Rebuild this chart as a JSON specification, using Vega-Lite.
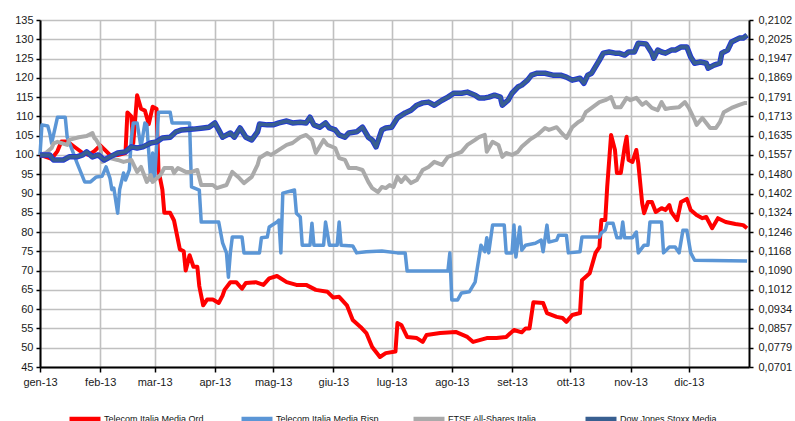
{
"$schema": "https://vega.github.io/schema/vega-lite/v6.json",
"width": 709, "height": 347,
"autosize": {"type": "none"},
"padding": {"left": 40, "top": 20, "right": 46, "bottom": 54},
"background": "white",
"config": {"view": {"stroke": null}, "font": "Liberation Sans"},
"datasets": {
"ord": [
{"d":"2013-01-01","v":100},{"d":"2013-01-04","v":99.5},{"d":"2013-01-07","v":99},{"d":"2013-01-10","v":101},{"d":"2013-01-12","v":103.5},{"d":"2013-01-15","v":103.5},{"d":"2013-01-19","v":102},{"d":"2013-01-23","v":100.5},{"d":"2013-01-26","v":100},{"d":"2013-01-29","v":101},{"d":"2013-02-01","v":102.5},{"d":"2013-02-03","v":101.5},{"d":"2013-02-06","v":100},{"d":"2013-02-10","v":100},{"d":"2013-02-14","v":100.5},{"d":"2013-02-15","v":111},{"d":"2013-02-17","v":110},{"d":"2013-02-18","v":103},{"d":"2013-02-20","v":115.5},{"d":"2013-02-22","v":112},{"d":"2013-02-24","v":111.5},{"d":"2013-02-26","v":108},{"d":"2013-02-28","v":112.5},{"d":"2013-03-02","v":112},{"d":"2013-03-03","v":96},{"d":"2013-03-05","v":91},{"d":"2013-03-06","v":85},{"d":"2013-03-09","v":85},{"d":"2013-03-11","v":83},{"d":"2013-03-14","v":75.5},{"d":"2013-03-16","v":75},{"d":"2013-03-17","v":70},{"d":"2013-03-19","v":74},{"d":"2013-03-21","v":71},{"d":"2013-03-23","v":71},{"d":"2013-03-24","v":66},{"d":"2013-03-26","v":61},{"d":"2013-03-28","v":62.5},{"d":"2013-03-31","v":62.5},{"d":"2013-04-03","v":61.6},{"d":"2013-04-05","v":63.5},{"d":"2013-04-06","v":65},{"d":"2013-04-09","v":67},{"d":"2013-04-12","v":67},{"d":"2013-04-15","v":65.3},{"d":"2013-04-17","v":66.8},{"d":"2013-04-22","v":67},{"d":"2013-04-26","v":66.3},{"d":"2013-04-29","v":68},{"d":"2013-05-03","v":68.6},{"d":"2013-05-08","v":67},{"d":"2013-05-13","v":66.3},{"d":"2013-05-18","v":66.3},{"d":"2013-05-23","v":65},{"d":"2013-05-29","v":64.5},{"d":"2013-06-01","v":63},{"d":"2013-06-04","v":63.2},{"d":"2013-06-08","v":61},{"d":"2013-06-11","v":57.2},{"d":"2013-06-15","v":55.4},{"d":"2013-06-18","v":53.8},{"d":"2013-06-21","v":50.2},{"d":"2013-06-25","v":47.6},{"d":"2013-06-28","v":48.6},{"d":"2013-07-03","v":49},{"d":"2013-07-04","v":56.4},{"d":"2013-07-06","v":55.9},{"d":"2013-07-09","v":52.8},{"d":"2013-07-14","v":52.5},{"d":"2013-07-17","v":51.5},{"d":"2013-07-19","v":53.3},{"d":"2013-07-26","v":53.8},{"d":"2013-08-03","v":54.1},{"d":"2013-08-09","v":52.8},{"d":"2013-08-12","v":51.5},{"d":"2013-08-19","v":52.5},{"d":"2013-08-24","v":52.5},{"d":"2013-08-29","v":52.8},{"d":"2013-09-02","v":54.6},{"d":"2013-09-06","v":54},{"d":"2013-09-08","v":55},{"d":"2013-09-10","v":55},{"d":"2013-09-12","v":61.8},{"d":"2013-09-17","v":61.6},{"d":"2013-09-19","v":59},{"d":"2013-09-24","v":58},{"d":"2013-09-27","v":57.7},{"d":"2013-09-29","v":56.7},{"d":"2013-10-02","v":58.5},{"d":"2013-10-06","v":59},{"d":"2013-10-07","v":67.5},{"d":"2013-10-11","v":69.3},{"d":"2013-10-14","v":74.6},{"d":"2013-10-16","v":76.1},{"d":"2013-10-17","v":83.1},{"d":"2013-10-19","v":83.1},{"d":"2013-10-20","v":91.7},{"d":"2013-10-22","v":105.2},{"d":"2013-10-24","v":101.3},{"d":"2013-10-25","v":95.3},{"d":"2013-10-27","v":95.3},{"d":"2013-10-29","v":102.1},{"d":"2013-10-30","v":104.7},{"d":"2013-10-31","v":98.7},{"d":"2013-11-02","v":98.2},{"d":"2013-11-04","v":101.3},{"d":"2013-11-05","v":97.9},{"d":"2013-11-07","v":87.5},{"d":"2013-11-08","v":84.9},{"d":"2013-11-10","v":87.8},{"d":"2013-11-12","v":87.8},{"d":"2013-11-14","v":85.2},{"d":"2013-11-17","v":86.2},{"d":"2013-11-19","v":85.7},{"d":"2013-11-21","v":87},{"d":"2013-11-22","v":85.2},{"d":"2013-11-25","v":83.1},{"d":"2013-11-27","v":87.8},{"d":"2013-11-30","v":88.6},{"d":"2013-12-02","v":85.7},{"d":"2013-12-05","v":84.4},{"d":"2013-12-08","v":83.6},{"d":"2013-12-10","v":83.9},{"d":"2013-12-13","v":81},{"d":"2013-12-16","v":83.6},{"d":"2013-12-20","v":82.6},{"d":"2013-12-25","v":82.1},{"d":"2013-12-29","v":81.8},{"d":"2013-12-31","v":81}
],
"risp": [
{"d":"2013-01-01","v":100},{"d":"2013-01-02","v":107.8},{"d":"2013-01-05","v":107.5},{"d":"2013-01-06","v":105.7},{"d":"2013-01-07","v":103},{"d":"2013-01-10","v":109.8},{"d":"2013-01-14","v":109.8},{"d":"2013-01-15","v":104.6},{"d":"2013-01-17","v":102},{"d":"2013-01-20","v":98},{"d":"2013-01-24","v":93},{"d":"2013-01-27","v":93},{"d":"2013-01-30","v":94.3},{"d":"2013-02-02","v":94.5},{"d":"2013-02-04","v":96.9},{"d":"2013-02-06","v":94},{"d":"2013-02-07","v":91},{"d":"2013-02-08","v":91.4},{"d":"2013-02-10","v":84.9},{"d":"2013-02-11","v":91},{"d":"2013-02-13","v":95.3},{"d":"2013-02-14","v":93.5},{"d":"2013-02-16","v":96.1},{"d":"2013-02-17","v":103.9},{"d":"2013-02-18","v":108.3},{"d":"2013-02-20","v":108.3},{"d":"2013-02-22","v":102},{"d":"2013-02-24","v":108.3},{"d":"2013-02-25","v":107.8},{"d":"2013-02-27","v":93.5},{"d":"2013-02-28","v":100.5},{"d":"2013-03-01","v":93.5},{"d":"2013-03-02","v":102},{"d":"2013-03-03","v":111.1},{"d":"2013-03-09","v":111.1},{"d":"2013-03-10","v":108.3},{"d":"2013-03-19","v":108.3},{"d":"2013-03-20","v":91.7},{"d":"2013-03-24","v":90.9},{"d":"2013-03-25","v":82.6},{"d":"2013-04-03","v":82.6},{"d":"2013-04-05","v":77.2},{"d":"2013-04-07","v":74.6},{"d":"2013-04-08","v":68.3},{"d":"2013-04-09","v":74.6},{"d":"2013-04-10","v":78.7},{"d":"2013-04-15","v":78.7},{"d":"2013-04-16","v":74.6},{"d":"2013-04-24","v":74.6},{"d":"2013-04-25","v":78.5},{"d":"2013-04-28","v":78.7},{"d":"2013-04-29","v":81.3},{"d":"2013-05-03","v":82.6},{"d":"2013-05-04","v":83.1},{"d":"2013-05-05","v":74.6},{"d":"2013-05-06","v":90.1},{"d":"2013-05-12","v":90.9},{"d":"2013-05-13","v":84.9},{"d":"2013-05-15","v":83.9},{"d":"2013-05-16","v":76.6},{"d":"2013-05-20","v":76.6},{"d":"2013-05-21","v":82.3},{"d":"2013-05-22","v":76.6},{"d":"2013-05-27","v":76.6},{"d":"2013-05-28","v":82.6},{"d":"2013-05-30","v":76.6},{"d":"2013-06-03","v":76.6},{"d":"2013-06-04","v":82.6},{"d":"2013-06-05","v":76.6},{"d":"2013-06-11","v":76.4},{"d":"2013-06-13","v":74.6},{"d":"2013-06-18","v":74.9},{"d":"2013-06-26","v":75.1},{"d":"2013-07-04","v":74.6},{"d":"2013-07-08","v":74.6},{"d":"2013-07-09","v":69.9},{"d":"2013-07-30","v":69.9},{"d":"2013-07-31","v":74.6},{"d":"2013-08-01","v":62.4},{"d":"2013-08-04","v":62.4},{"d":"2013-08-06","v":64.2},{"d":"2013-08-10","v":64.5},{"d":"2013-08-13","v":67},{"d":"2013-08-14","v":70.2},{"d":"2013-08-16","v":76.6},{"d":"2013-08-18","v":74.9},{"d":"2013-08-19","v":78.5},{"d":"2013-08-20","v":74.6},{"d":"2013-08-22","v":81.8},{"d":"2013-08-28","v":81.8},{"d":"2013-08-29","v":74.6},{"d":"2013-09-01","v":74.6},{"d":"2013-09-02","v":81.8},{"d":"2013-09-03","v":73.5},{"d":"2013-09-05","v":81.3},{"d":"2013-09-06","v":75.3},{"d":"2013-09-08","v":76.6},{"d":"2013-09-13","v":77.1},{"d":"2013-09-16","v":77.9},{"d":"2013-09-17","v":74.9},{"d":"2013-09-19","v":81.8},{"d":"2013-09-20","v":77.4},{"d":"2013-09-24","v":77.9},{"d":"2013-09-25","v":79.2},{"d":"2013-09-29","v":79.2},{"d":"2013-09-30","v":74.6},{"d":"2013-10-06","v":74.9},{"d":"2013-10-07","v":78.7},{"d":"2013-10-16","v":78.7},{"d":"2013-10-17","v":79.8},{"d":"2013-10-19","v":80.5},{"d":"2013-10-20","v":82.3},{"d":"2013-10-23","v":82.3},{"d":"2013-10-25","v":78.5},{"d":"2013-10-27","v":78.5},{"d":"2013-10-28","v":82.6},{"d":"2013-10-29","v":78.5},{"d":"2013-11-02","v":78.5},{"d":"2013-11-04","v":80},{"d":"2013-11-05","v":74.6},{"d":"2013-11-08","v":76.6},{"d":"2013-11-10","v":76.6},{"d":"2013-11-11","v":82.6},{"d":"2013-11-17","v":82.6},{"d":"2013-11-18","v":74.6},{"d":"2013-11-21","v":76.1},{"d":"2013-11-24","v":76.1},{"d":"2013-11-26","v":74.6},{"d":"2013-11-28","v":80.5},{"d":"2013-11-30","v":80.5},{"d":"2013-12-02","v":74.6},{"d":"2013-12-04","v":72.7},{"d":"2013-12-31","v":72.5}
],
"ftse": [
{"d":"2013-01-01","v":100},{"d":"2013-01-04","v":100.5},{"d":"2013-01-07","v":101.8},{"d":"2013-01-08","v":103},{"d":"2013-01-10","v":103.4},{"d":"2013-01-15","v":102.6},{"d":"2013-01-16","v":103.9},{"d":"2013-01-21","v":104.6},{"d":"2013-01-25","v":104.9},{"d":"2013-01-28","v":105.7},{"d":"2013-01-29","v":104.4},{"d":"2013-01-30","v":103.9},{"d":"2013-02-01","v":102.1},{"d":"2013-02-02","v":98.2},{"d":"2013-02-06","v":99.2},{"d":"2013-02-10","v":98.7},{"d":"2013-02-13","v":98.2},{"d":"2013-02-17","v":98.7},{"d":"2013-02-20","v":95.6},{"d":"2013-02-22","v":96.9},{"d":"2013-02-25","v":93},{"d":"2013-02-27","v":94.8},{"d":"2013-02-28","v":93},{"d":"2013-03-04","v":94.8},{"d":"2013-03-06","v":96.6},{"d":"2013-03-10","v":96.6},{"d":"2013-03-11","v":95.3},{"d":"2013-03-13","v":96.6},{"d":"2013-03-17","v":95.6},{"d":"2013-03-20","v":95.6},{"d":"2013-03-23","v":96.1},{"d":"2013-03-25","v":92.2},{"d":"2013-03-31","v":92.2},{"d":"2013-04-02","v":91.4},{"d":"2013-04-07","v":92.2},{"d":"2013-04-10","v":95.6},{"d":"2013-04-13","v":94.3},{"d":"2013-04-16","v":92.7},{"d":"2013-04-20","v":94.3},{"d":"2013-04-23","v":97.4},{"d":"2013-04-24","v":99.2},{"d":"2013-04-28","v":100.5},{"d":"2013-04-30","v":100},{"d":"2013-05-04","v":101.3},{"d":"2013-05-08","v":102.6},{"d":"2013-05-11","v":103.1},{"d":"2013-05-15","v":104.6},{"d":"2013-05-18","v":105.2},{"d":"2013-05-21","v":103.9},{"d":"2013-05-23","v":100.5},{"d":"2013-05-27","v":103.9},{"d":"2013-05-29","v":102.6},{"d":"2013-06-02","v":101.8},{"d":"2013-06-04","v":99.2},{"d":"2013-06-07","v":98.7},{"d":"2013-06-09","v":96.6},{"d":"2013-06-13","v":96.6},{"d":"2013-06-16","v":96.1},{"d":"2013-06-19","v":93},{"d":"2013-06-21","v":91.4},{"d":"2013-06-24","v":90.4},{"d":"2013-06-26","v":91.7},{"d":"2013-06-28","v":91.4},{"d":"2013-06-30","v":92.2},{"d":"2013-07-02","v":91.7},{"d":"2013-07-04","v":94.3},{"d":"2013-07-06","v":93},{"d":"2013-07-08","v":94.3},{"d":"2013-07-11","v":92.7},{"d":"2013-07-14","v":93.5},{"d":"2013-07-17","v":96.1},{"d":"2013-07-20","v":96.9},{"d":"2013-07-23","v":98.2},{"d":"2013-07-27","v":97.4},{"d":"2013-07-30","v":99.5},{"d":"2013-08-02","v":100},{"d":"2013-08-06","v":100.8},{"d":"2013-08-09","v":102.6},{"d":"2013-08-13","v":103.9},{"d":"2013-08-15","v":104.6},{"d":"2013-08-18","v":105.2},{"d":"2013-08-19","v":100.8},{"d":"2013-08-22","v":103.4},{"d":"2013-08-25","v":102.6},{"d":"2013-08-27","v":99.5},{"d":"2013-08-29","v":100.5},{"d":"2013-09-01","v":100},{"d":"2013-09-04","v":100.8},{"d":"2013-09-06","v":102.1},{"d":"2013-09-10","v":103.9},{"d":"2013-09-14","v":105.2},{"d":"2013-09-18","v":107},{"d":"2013-09-20","v":106.5},{"d":"2013-09-24","v":107.2},{"d":"2013-09-26","v":106},{"d":"2013-09-29","v":104.4},{"d":"2013-10-02","v":107.2},{"d":"2013-10-05","v":108.5},{"d":"2013-10-07","v":109.1},{"d":"2013-10-09","v":111.1},{"d":"2013-10-12","v":112.2},{"d":"2013-10-16","v":113.7},{"d":"2013-10-19","v":114.2},{"d":"2013-10-22","v":115},{"d":"2013-10-24","v":112.4},{"d":"2013-10-27","v":112.4},{"d":"2013-10-30","v":114.8},{"d":"2013-11-01","v":114.2},{"d":"2013-11-04","v":114.8},{"d":"2013-11-07","v":113},{"d":"2013-11-09","v":113.7},{"d":"2013-11-12","v":112.2},{"d":"2013-11-15","v":111.6},{"d":"2013-11-17","v":113.7},{"d":"2013-11-19","v":111.9},{"d":"2013-11-22","v":112.2},{"d":"2013-11-26","v":112.4},{"d":"2013-11-29","v":113.7},{"d":"2013-12-01","v":112.2},{"d":"2013-12-04","v":109.1},{"d":"2013-12-05","v":107.8},{"d":"2013-12-08","v":109.6},{"d":"2013-12-10","v":108.3},{"d":"2013-12-12","v":107},{"d":"2013-12-15","v":107},{"d":"2013-12-17","v":108.5},{"d":"2013-12-19","v":111.1},{"d":"2013-12-23","v":112.2},{"d":"2013-12-27","v":113},{"d":"2013-12-30","v":113.5},{"d":"2013-12-31","v":113.5}
],
"djs": [
{"d":"2013-01-01","v":100},{"d":"2013-01-06","v":100},{"d":"2013-01-08","v":98.7},{"d":"2013-01-13","v":98.7},{"d":"2013-01-16","v":99.5},{"d":"2013-01-20","v":99.5},{"d":"2013-01-23","v":100},{"d":"2013-01-25","v":100.8},{"d":"2013-01-28","v":99.5},{"d":"2013-01-31","v":100},{"d":"2013-02-03","v":98.7},{"d":"2013-02-06","v":99.5},{"d":"2013-02-10","v":100.5},{"d":"2013-02-14","v":100.8},{"d":"2013-02-17","v":102.1},{"d":"2013-02-20","v":101.8},{"d":"2013-02-23","v":102.1},{"d":"2013-02-27","v":103.1},{"d":"2013-03-02","v":103.4},{"d":"2013-03-05","v":104.4},{"d":"2013-03-09","v":104.6},{"d":"2013-03-12","v":106},{"d":"2013-03-15","v":106.5},{"d":"2013-03-21","v":106.7},{"d":"2013-03-26","v":107},{"d":"2013-03-29","v":107.2},{"d":"2013-04-01","v":108.3},{"d":"2013-04-03","v":106.5},{"d":"2013-04-05","v":104.6},{"d":"2013-04-09","v":105.7},{"d":"2013-04-11","v":104.6},{"d":"2013-04-14","v":107},{"d":"2013-04-17","v":104.6},{"d":"2013-04-20","v":103.9},{"d":"2013-04-23","v":106},{"d":"2013-04-24","v":108},{"d":"2013-04-28","v":107.8},{"d":"2013-05-01","v":107.8},{"d":"2013-05-04","v":108.3},{"d":"2013-05-08","v":108.8},{"d":"2013-05-11","v":108.3},{"d":"2013-05-15","v":108.5},{"d":"2013-05-18","v":108.3},{"d":"2013-05-20","v":109.8},{"d":"2013-05-22","v":107.8},{"d":"2013-05-25","v":107.2},{"d":"2013-05-28","v":108.3},{"d":"2013-05-30","v":107},{"d":"2013-06-02","v":106.5},{"d":"2013-06-04","v":105.2},{"d":"2013-06-07","v":104.6},{"d":"2013-06-09","v":105.7},{"d":"2013-06-13","v":106},{"d":"2013-06-16","v":107.2},{"d":"2013-06-19","v":104.6},{"d":"2013-06-21","v":103.9},{"d":"2013-06-23","v":102.1},{"d":"2013-06-26","v":106.5},{"d":"2013-06-28","v":107},{"d":"2013-07-01","v":107.2},{"d":"2013-07-04","v":109.6},{"d":"2013-07-08","v":110.9},{"d":"2013-07-11","v":111.6},{"d":"2013-07-14","v":112.9},{"d":"2013-07-17","v":113.5},{"d":"2013-07-20","v":113.7},{"d":"2013-07-23","v":112.9},{"d":"2013-07-27","v":114.2},{"d":"2013-07-30","v":115},{"d":"2013-08-02","v":116},{"d":"2013-08-06","v":116},{"d":"2013-08-09","v":116.3},{"d":"2013-08-13","v":115.5},{"d":"2013-08-15","v":114.8},{"d":"2013-08-18","v":114.8},{"d":"2013-08-20","v":115},{"d":"2013-08-23","v":115.5},{"d":"2013-08-26","v":115},{"d":"2013-08-27","v":112.9},{"d":"2013-08-30","v":114.2},{"d":"2013-09-01","v":116},{"d":"2013-09-04","v":117.6},{"d":"2013-09-06","v":118.1},{"d":"2013-09-09","v":119.4},{"d":"2013-09-11","v":120.7},{"d":"2013-09-14","v":121.2},{"d":"2013-09-18","v":121.2},{"d":"2013-09-22","v":120.7},{"d":"2013-09-26","v":120.7},{"d":"2013-09-29","v":120.2},{"d":"2013-10-02","v":119.4},{"d":"2013-10-06","v":119.9},{"d":"2013-10-08","v":118.6},{"d":"2013-10-10","v":120.7},{"d":"2013-10-12","v":121.2},{"d":"2013-10-16","v":124.6},{"d":"2013-10-18","v":126.4},{"d":"2013-10-21","v":126.7},{"d":"2013-10-24","v":126.4},{"d":"2013-10-26","v":126.4},{"d":"2013-10-29","v":125.9},{"d":"2013-10-31","v":126.7},{"d":"2013-11-03","v":126.7},{"d":"2013-11-05","v":129},{"d":"2013-11-09","v":128.8},{"d":"2013-11-12","v":126.4},{"d":"2013-11-13","v":125.1},{"d":"2013-11-15","v":127.2},{"d":"2013-11-17","v":126.7},{"d":"2013-11-19","v":126.4},{"d":"2013-11-22","v":127.2},{"d":"2013-11-24","v":127.2},{"d":"2013-11-27","v":128},{"d":"2013-11-30","v":128},{"d":"2013-12-02","v":125.4},{"d":"2013-12-04","v":123.8},{"d":"2013-12-07","v":124.1},{"d":"2013-12-10","v":123.8},{"d":"2013-12-11","v":122.5},{"d":"2013-12-14","v":123.3},{"d":"2013-12-17","v":123.8},{"d":"2013-12-18","v":126.4},{"d":"2013-12-21","v":127.2},{"d":"2013-12-23","v":129.3},{"d":"2013-12-27","v":130.3},{"d":"2013-12-29","v":130.3},{"d":"2013-12-31","v":131.1}
]
},
"layer": [
{
"data": {"name": "ord"},
"mark": {"type": "line", "strokeWidth": 4, "strokeJoin": "round"},
"encoding": {
"x": {"field": "d", "type": "temporal",
"scale": {"type": "utc", "domain": [{"year": 2013, "month": 1, "date": 1, "utc": true}, {"year": 2014, "month": 1, "date": 1, "utc": true}]},
"axis": {"title": null, "orient": "bottom",
"values": [{"year":2013,"month":1,"date":1,"utc":true},{"year":2013,"month":2,"date":1,"utc":true},{"year":2013,"month":3,"date":1,"utc":true},{"year":2013,"month":4,"date":1,"utc":true},{"year":2013,"month":5,"date":1,"utc":true},{"year":2013,"month":6,"date":1,"utc":true},{"year":2013,"month":7,"date":1,"utc":true},{"year":2013,"month":8,"date":1,"utc":true},{"year":2013,"month":9,"date":1,"utc":true},{"year":2013,"month":10,"date":1,"utc":true},{"year":2013,"month":11,"date":1,"utc":true},{"year":2013,"month":12,"date":1,"utc":true}],
"labelExpr": "['gen','feb','mar','apr','mag','giu','lug','ago','set','ott','nov','dic'][utcmonth(datum.value)] + '-13'",
"grid": true, "gridColor": "#c0c0c0", "gridWidth": 1.6,
"domainColor": "#000000", "domainWidth": 2, "tickColor": "#000000", "tickWidth": 1.5, "tickSize": 5,
"labelFontSize": 11, "labelColor": "#1a1a1a", "labelPadding": 4, "labelFlush": false, "labelOverlap": false}},
"y": {"field": "v", "type": "quantitative",
"scale": {"domain": [45, 135], "nice": false, "zero": false},
"axis": {"title": null, "orient": "left", "values": [45,50,55,60,65,70,75,80,85,90,95,100,105,110,115,120,125,130,135],
"grid": true, "gridColor": "#c0c0c0", "gridWidth": 1.6,
"domainColor": "#000000", "domainWidth": 2, "tickColor": "#000000", "tickWidth": 1.5, "tickSize": 4,
"labelFontSize": 11, "labelColor": "#1a1a1a", "labelPadding": 3}},
"color": {"datum": "Telecom Italia Media Ord", "type": "nominal",
"scale": {"domain": ["Telecom Italia Media Ord", "Telecom Italia Media Risp", "FTSE All-Shares Italia", "Dow Jones Stoxx Media"],
"range": ["#ff0000", "#5b96d6", "#aaaaaa", "#385f90"]},
"legend": {"title": null, "orient": "none", "legendX": 27, "legendY": 381, "direction": "horizontal", "columns": 4,
"symbolType": "stroke", "symbolSize": 961, "symbolStrokeWidth": 4.5, "labelFontSize": 9, "labelOffset": 1,
"columnPadding": 25, "gridAlign": "all", "labelColor": "#111111", "labelLimit": 200, "padding": 0}}
}
},
{
"data": {"name": "risp"},
"mark": {"type": "line", "strokeWidth": 3.5, "strokeJoin": "round"},
"encoding": {
"x": {"field": "d", "type": "temporal"},
"y": {"field": "v", "type": "quantitative", "axis": null},
"color": {"datum": "Telecom Italia Media Risp", "type": "nominal"}
}
},
{
"data": {"name": "ftse"},
"mark": {"type": "line", "strokeWidth": 4, "strokeJoin": "round"},
"encoding": {
"x": {"field": "d", "type": "temporal"},
"y": {"field": "v", "type": "quantitative", "axis": null},
"color": {"datum": "FTSE All-Shares Italia", "type": "nominal"}
}
},
{
"data": {"name": "djs"},
"mark": {"type": "line", "strokeWidth": 5.5, "strokeJoin": "round", "color": "#2238d4"},
"encoding": {
"x": {"field": "d", "type": "temporal"},
"y": {"field": "v", "type": "quantitative", "axis": null}
}
},
{
"data": {"name": "djs"},
"mark": {"type": "line", "strokeWidth": 3.5, "strokeJoin": "round"},
"encoding": {
"x": {"field": "d", "type": "temporal"},
"y": {"field": "v", "type": "quantitative",
"axis": {"title": null, "orient": "right", "values": [45,50,55,60,65,70,75,80,85,90,95,100,105,110,115,120,125,130,135],
"labelExpr": "['0,0701','0,0779','0,0857','0,0934','0,1012','0,1090','0,1168','0,1246','0,1324','0,1402','0,1480','0,1557','0,1635','0,1713','0,1791','0,1869','0,1947','0,2025','0,2102'][round((datum.value-45)/5)]",
"grid": false, "domainColor": "#000000", "domainWidth": 2, "tickColor": "#000000", "tickWidth": 1.5, "tickSize": 4,
"labelFontSize": 11, "labelColor": "#1a1a1a", "labelPadding": 5}},
"color": {"datum": "Dow Jones Stoxx Media", "type": "nominal"}
}
}
],
"resolve": {"axis": {"y": "independent"}}
}
